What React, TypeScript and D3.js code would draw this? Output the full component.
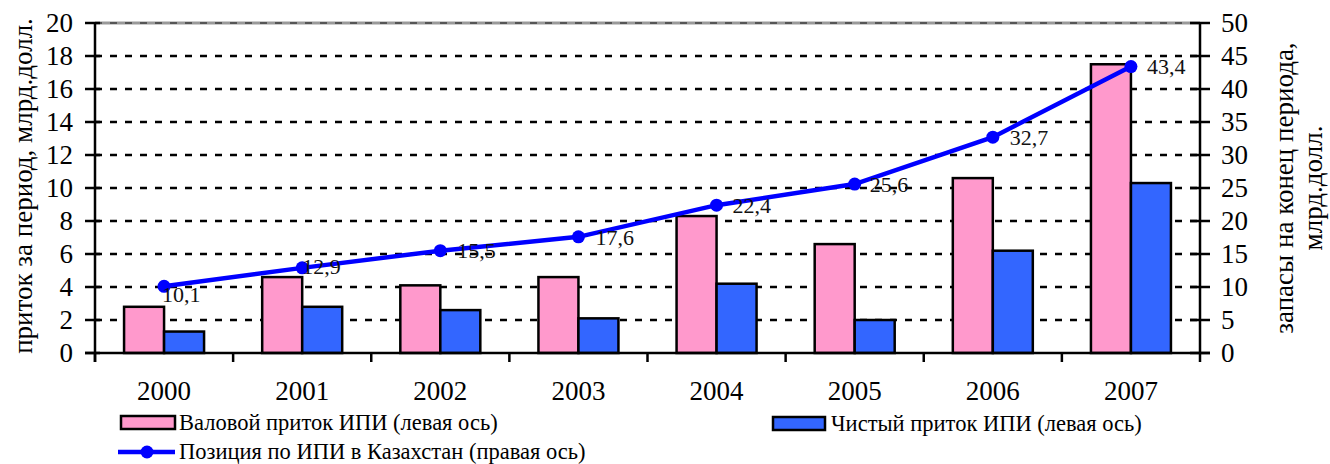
import React from "react";
import * as d3 from "d3";

const years = ["2000", "2001", "2002", "2003", "2004", "2005", "2006", "2007"];
const grossInflow = [2.8, 4.6, 4.1, 4.6, 8.3, 6.6, 10.6, 17.5];
const netInflow = [1.3, 2.8, 2.6, 2.1, 4.2, 2.0, 6.2, 10.3];
const position = [10.1, 12.9, 15.5, 17.6, 22.4, 25.6, 32.7, 43.4];
const positionLabels = ["10,1", "12,9", "15,5", "17,6", "22,4", "25,6", "32,7", "43,4"];
const leftTicks = [0, 2, 4, 6, 8, 10, 12, 14, 16, 18, 20];
const rightTicks = [0, 5, 10, 15, 20, 25, 30, 35, 40, 45, 50];
const seriesNames = ["Валовой приток ИПИ (левая ось)", "Чистый приток ИПИ (левая ось)", "Позиция по ИПИ в Казахстан (правая ось)"];
const leftTitle = "приток за период, млрд.долл.";
const rightTitle = ["запасы на конец периода,", "млрд.долл."];

// label offsets (style)
const labelOffsets: [number, number][] = [[-2, 8], [0, -2], [17, 0], [17, 0], [16, 0], [15, 0], [17, 0], [16, 0]];

const W = 1330, H = 464;
const X0 = 95, X1 = 1200, Y0 = 353, Y1 = 23;
const FONT = "Liberation Serif";
const PINK = "#FF99CC", BLUE = "#3366FF", LINE = "#0000FF";

export default function App() {
  const x = d3.scaleBand<string>().domain(years).range([X0, X1]).padding(0);
  const yL = d3.scaleLinear().domain([0, 20]).range([Y0, Y1]);
  const yR = d3.scaleLinear().domain([0, 50]).range([Y0, Y1]);
  const inner = d3.scaleBand<string>().domain(["g", "n"]).range([-40, 40]).padding(0);
  const cx = (y: string) => (x(y) as number) + x.bandwidth() / 2;
  const linePath = d3.line<number>().x((_, i) => cx(years[i])).y(v => yR(v))(position) as string;
  const tf = { fontFamily: FONT };

  return (
    <svg width={W} height={H} style={{ position: "absolute", left: 0, top: 0, background: "#fff" }}>
      <rect x={0} y={0} width={W} height={H} fill="#fff" />
      {leftTicks.filter(t => t > 0 && t < 20).map(t => (
        <line key={"g" + t} x1={X0} x2={X1} y1={yL(t)} y2={yL(t)} stroke="#000" strokeWidth={2.6} strokeDasharray="7,8" />
      ))}
      <line x1={X0} x2={X1} y1={yL(20)} y2={yL(20)} stroke="#999" strokeWidth={3} />
      <line x1={X0} x2={X1} y1={yL(20)} y2={yL(20)} stroke="#555" strokeWidth={2} strokeDasharray="7,8" />

      {years.map((yr, i) => (
        <g key={"b" + yr}>
          <rect x={cx(yr) + (inner("g") as number)} y={yL(grossInflow[i])} width={inner.bandwidth()} height={Y0 - yL(grossInflow[i])} fill={PINK} stroke="#000" strokeWidth={2.5} />
          <rect x={cx(yr) + (inner("n") as number)} y={yL(netInflow[i])} width={inner.bandwidth()} height={Y0 - yL(netInflow[i])} fill={BLUE} stroke="#000" strokeWidth={2.5} />
        </g>
      ))}

      <line x1={X0} x2={X0} y1={Y1} y2={Y0 + 9} stroke="#000" strokeWidth={2.5} />
      <line x1={X1} x2={X1} y1={Y1} y2={Y0 + 9} stroke="#000" strokeWidth={2.5} />
      <line x1={X0 - 10} x2={X1 + 10} y1={Y0} y2={Y0} stroke="#000" strokeWidth={2.5} />
      {leftTicks.map(t => (
        <g key={"lt" + t}>
          <line x1={X0 - 10} x2={X0 + 5} y1={yL(t)} y2={yL(t)} stroke="#000" strokeWidth={2.5} />
          <text style={tf} x={73} y={yL(t)} dy="0.35em" textAnchor="end" fontSize={27}>{t}</text>
        </g>
      ))}
      {rightTicks.map(t => (
        <g key={"rt" + t}>
          <line x1={X1 - 10} x2={X1 + 10} y1={yR(t)} y2={yR(t)} stroke="#000" strokeWidth={2.5} />
          <text style={tf} x={1221} y={yR(t)} dy="0.35em" textAnchor="start" fontSize={27}>{t}</text>
        </g>
      ))}
      {years.map(yr => (
        <line key={"xt" + yr} x1={x(yr) as number} x2={x(yr) as number} y1={Y0} y2={Y0 + 9} stroke="#000" strokeWidth={2.5} />
      ))}
      {years.map(yr => (
        <text style={tf} key={"xl" + yr} x={cx(yr)} y={400} textAnchor="middle" fontSize={27}>{yr}</text>
      ))}

      <text style={tf} transform={`translate(32,186) rotate(-90)`} textAnchor="middle" fontSize={27}>{leftTitle}</text>
      <text style={tf} transform={`translate(1293,188) rotate(-90)`} textAnchor="middle" fontSize={27}>
        <tspan x={0} dy={0}>{rightTitle[0]}</tspan>
        <tspan x={0} dy={29}>{rightTitle[1]}</tspan>
      </text>

      <path d={linePath} fill="none" stroke={LINE} strokeWidth={4.5} />
      {position.map((v, i) => (
        <circle key={"c" + i} cx={cx(years[i])} cy={yR(v)} r={6.5} fill={LINE} />
      ))}
      {position.map((v, i) => (
        <text style={tf} key={"dl" + i} x={cx(years[i]) + labelOffsets[i][0]} y={yR(v) + labelOffsets[i][1]} dy="0.35em" fontSize={22} fill="#111">{positionLabels[i]}</text>
      ))}

      <rect x={121} y={416} width={54} height={13} fill={PINK} stroke="#000" strokeWidth={2.5} />
      <text style={tf} x={179} y={430} fontSize={22.5}>{seriesNames[0]}</text>
      <rect x={773} y={417} width={52} height={13} fill={BLUE} stroke="#000" strokeWidth={2.5} />
      <text style={tf} x={831} y={431} fontSize={22.5}>{seriesNames[1]}</text>
      <line x1={118} x2={175} y1={452} y2={452} stroke={LINE} strokeWidth={4.5} />
      <circle cx={147} cy={452} r={6.5} fill={LINE} />
      <text style={tf} x={179} y={459} fontSize={22.5}>{seriesNames[2]}</text>
    </svg>
  );
}
